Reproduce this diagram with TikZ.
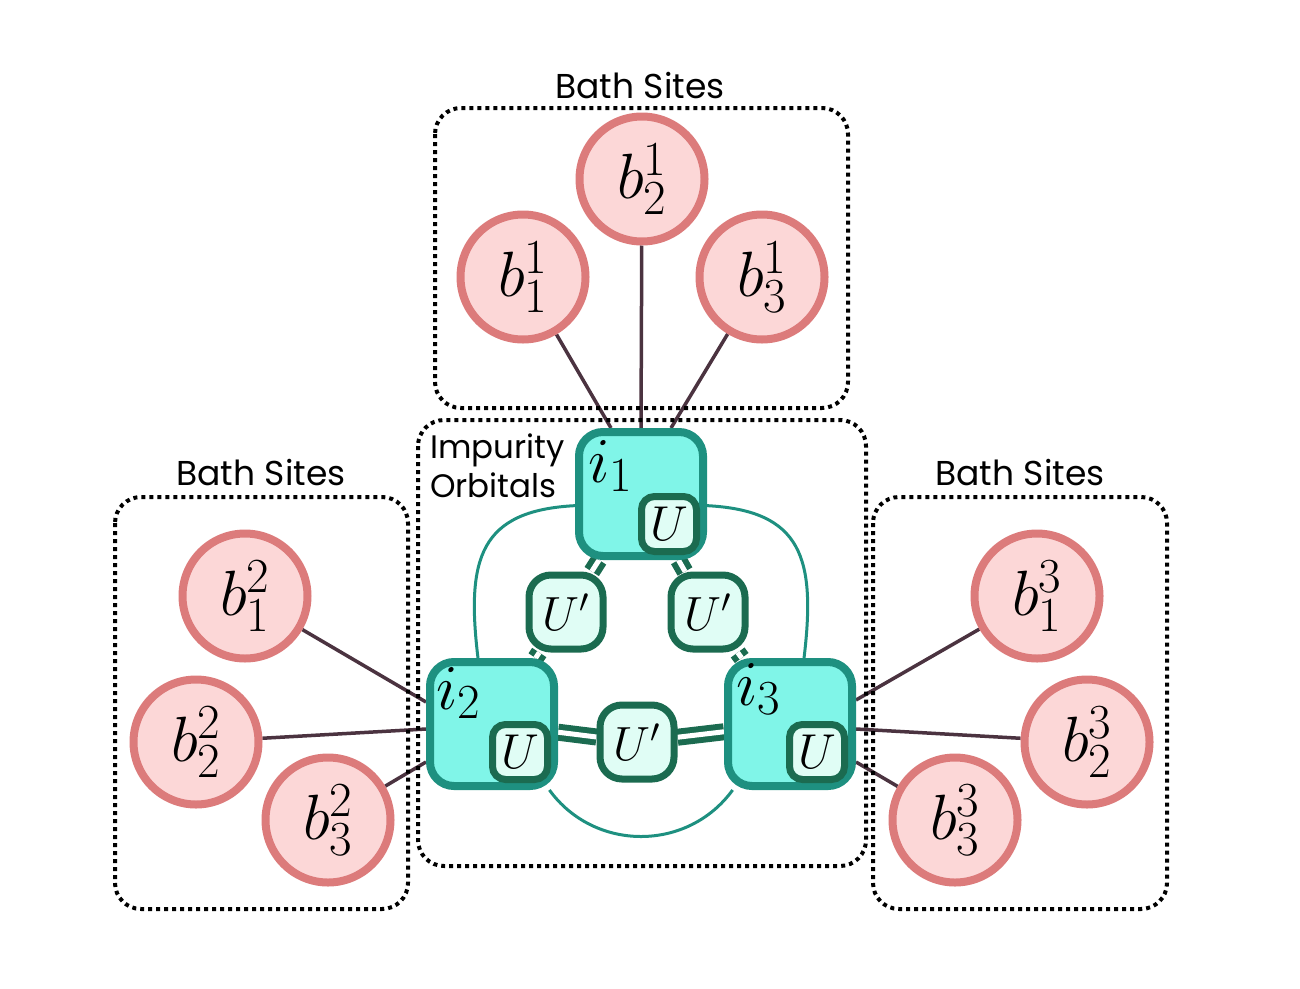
\RequirePackage{fix-cm}
\documentclass[tikz,border=0pt]{standalone}
\usepackage{fontspec}
\setsansfont{Poppins}
\usetikzlibrary{positioning,calc}
\pgfdeclarelayer{background}
\pgfsetlayers{background,main}
\DeclareMathSizes{64}{64}{49}{35}

\definecolor{bathfill}{HTML}{FCD7D7}
\definecolor{bathedge}{HTML}{DC7B7B}
\definecolor{impfill}{HTML}{80F5E8}
\definecolor{impedge}{HTML}{1E9080}
\definecolor{ufill}{HTML}{E0FDF5}
\definecolor{uedge}{HTML}{1B6B50}
\definecolor{hopcolor}{HTML}{4B3340}

\tikzset{
    bath/.style={circle, draw=bathedge, fill=bathfill, line width=8pt, minimum size=125pt, inner sep=0pt, font=\fontsize{64}{70}\selectfont},
    imp/.style={rectangle, rounded corners=24pt, draw=impedge, fill=impfill, line width=8pt, minimum size=124pt, inner sep=0pt},
    orblabel/.style={anchor=base west, inner sep=0pt, font=\fontsize{64}{70}\selectfont},
    ubox/.style={rectangle, rounded corners=13pt, draw=uedge, fill=ufill, line width=7pt, minimum size=55pt, inner sep=0pt, font=\fontsize{49}{54}\selectfont},
    upbox/.style={rectangle, rounded corners=22pt, draw=uedge, fill=ufill, line width=7pt, minimum size=74pt, inner sep=0pt, font=\fontsize{48}{54}\selectfont},
    frame/.style={draw=black, line width=4pt, dash pattern=on 4pt off 4pt, rounded corners=26pt},
    framelabel/.style={anchor=base, inner sep=0pt, font=\sffamily\fontsize{34.5}{40}\selectfont},
    hop/.style={draw=hopcolor, line width=3.5pt},
    coupling/.style={draw=uedge, line width=6pt, double=white, double distance=5pt},
    hybrid/.style={draw=impedge, line width=3pt}
}

\begin{document}
\begin{tikzpicture}[x=1pt, y=-1pt]
    \useasboundingbox (0,0) rectangle (1300,988);

    % dotted frames
    \draw[frame] (435,108) rectangle (848,408);
    \draw[frame] (418,420) rectangle (866,866);
    \draw[frame] (115,497) rectangle (408,909);
    \draw[frame] (873,497) rectangle (1167,909);

    \node[framelabel] (toplab) at (640,98) {Bath Sites};
    \node[framelabel] (leftlab) at (261,485) {Bath Sites};
    \node[framelabel] (rightlab) at (1020,485) {Bath Sites};
    \node[anchor=north west, inner sep=0pt, align=left, font=\sffamily\fontsize{32.5}{38.5}\selectfont] (implab) at (430,434) {Impurity\\Orbitals};

    % impurity orbitals
    \node[imp] (i1) at (641,494) {};
    \node[imp] (i2) at (492,724) {};
    \node[imp] (i3) at (790,724) {};

    \node[orblabel] (i1lab) at ($(i1.north west)+(13,54)$) {$i_1$};
    \node[orblabel] (i2lab) at ($(i2.north west)+(10,51)$) {$i_2$};
    \node[orblabel] (i3lab) at ($(i3.north west)+(12,47)$) {$i_3$};

    \node[ubox] (u1) at ($(i1)+(28,30)$) {$U$};
    \node[ubox] (u2) at ($(i2)+(28,28)$) {$U$};
    \node[ubox] (u3) at ($(i3)+(27,28)$) {$U$};

    % inter-orbital interaction
    \node[upbox] (u12) at (566,612) {$U'$};
    \node[upbox] (u13) at (708,612) {$U'$};
    \node[upbox] (u23) at (637,742) {$U'$};

    % bath sites
    \node[bath] (b11) at (523,277) {$b^1_1$};
    \node[bath] (b12) at (642,179) {$b^1_2$};
    \node[bath] (b13) at (762,277) {$b^1_3$};
    \node[bath] (b21) at (245,596) {$b^2_1$};
    \node[bath] (b22) at (196,742) {$b^2_2$};
    \node[bath] (b23) at (328,820) {$b^2_3$};
    \node[bath] (b31) at (1037,596) {$b^3_1$};
    \node[bath] (b32) at (1087,742) {$b^3_2$};
    \node[bath] (b33) at (955,820) {$b^3_3$};

    \begin{pgfonlayer}{background}
        % hoppings to the bath
        \draw[hop] (b11) -- ($(i1.north)+(-30,0)$);
        \draw[hop] (b12) -- (i1.north);
        \draw[hop] (b13) -- ($(i1.north)+(30,0)$);
        \draw[hop] (b21) -- ($(i2.west)+(0,-22)$);
        \draw[hop] (b22) -- ($(i2.west)+(0,5)$);
        \draw[hop] (b23) -- ($(i2.west)+(0,38)$);
        \draw[hop] (b31) -- ($(i3.east)+(0,-24)$);
        \draw[hop] (b32) -- ($(i3.east)+(0,5)$);
        \draw[hop] (b33) -- ($(i3.east)+(0,38)$);

        % orbital couplings
        \draw[coupling] (i1) -- (u12) -- (i2);
        \draw[coupling] (i1) -- (u13) -- (i3);
        \draw[coupling] (i2) -- (u23) -- (i3);

        \draw[hybrid] (i1.190) .. controls +(-95,5) and +(-12,-100) .. (i2.102);
        \draw[hybrid] (i1.-10) .. controls +(95,5) and +(12,-100) .. (i3.78);
        \draw[hybrid] (i2.-49) .. controls +(45,62) and +(-45,62) .. (i3.-131);
    \end{pgfonlayer}
\end{tikzpicture}
\end{document}
